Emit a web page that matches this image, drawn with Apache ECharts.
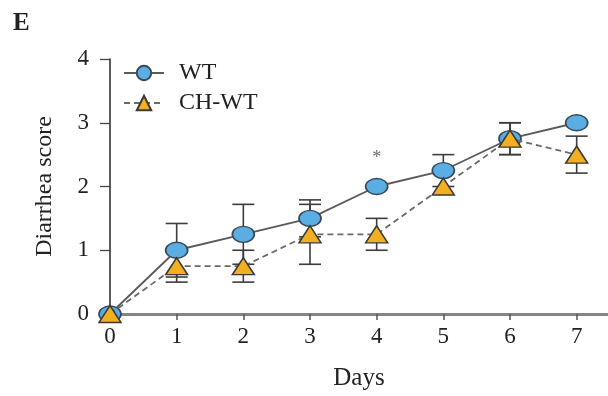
<!DOCTYPE html>
<html>
<head>
<meta charset="utf-8">
<script src="https://cdn.jsdelivr.net/npm/echarts@6/dist/echarts.min.js"></script>
<style>
  html, body { margin: 0; padding: 0; background: #fff; }
  #chart { width: 608px; height: 396px; }
</style>
</head>
<body>
<div id="chart"></div>
<script>
// Diarrhea score over days: WT vs CH-WT (mean ± error)
const days = [0, 1, 2, 3, 4, 5, 6, 7];
const wtMean = [0, 1, 1.25, 1.5, 2, 2.25, 2.75, 3];
const wtErr = [0, 0.42, 0.47, 0.29, 0, 0.25, 0.25, 0];
const chMean = [0, 0.75, 0.75, 1.25, 1.25, 2, 2.75, 2.5];
const chErr = [0, 0.25, 0.25, 0.47, 0.25, 0, 0.25, 0.29];
const yTicks = [0, 1, 2, 3, 4];
const sigDays = [4];
const sigHeights = [2.5];

const serif = '"Liberation Serif", "DejaVu Serif", serif';

function pairs(xs, ys) { return xs.map((x, i) => [x, ys[i]]); }
function errData(xs, ys, es) { return xs.map((x, i) => [x, ys[i] - es[i], ys[i] + es[i]]); }

function errorBars(api) {
  const x = api.value(0), lo = api.value(1), hi = api.value(2);
  if (hi - lo <= 0) return null;
  const pLo = api.coord([x, lo]);
  const pHi = api.coord([x, hi]);
  const hw = 11;
  const style = { stroke: '#3d3d3d', lineWidth: 1.6, fill: null };
  return {
    type: 'group',
    children: [
      { type: 'line', shape: { x1: pLo[0], y1: pLo[1], x2: pHi[0], y2: pHi[1] }, style },
      { type: 'line', shape: { x1: pHi[0] - hw, y1: pHi[1], x2: pHi[0] + hw, y2: pHi[1] }, style },
      { type: 'line', shape: { x1: pLo[0] - hw, y1: pLo[1], x2: pLo[0] + hw, y2: pLo[1] }, style }
    ]
  };
}

const chart = echarts.init(document.getElementById('chart'), null, { renderer: 'canvas' });
chart.setOption({
  animation: false,
  backgroundColor: '#fff',
  grid: { left: 110, right: 0, top: 59, bottom: 78, containLabel: false },
  legend: {
    left: 118, top: 61, orient: 'vertical', padding: [0, 0, 0, 5],
    itemWidth: 40, itemHeight: 18, itemGap: 6,
    data: ['WT', 'CH-WT'],
    textStyle: { fontFamily: serif, fontSize: 24, color: '#222', padding: [0, 0, 0, 10] }
  },
  xAxis: {
    type: 'value', min: 0, max: 7.47,
    name: 'Days', nameLocation: 'middle', nameGap: 52,
    nameTextStyle: { fontFamily: serif, fontSize: 25, color: '#222' },
    axisLine: { onZero: false, lineStyle: { color: '#858585', width: 2.8 } },
    axisTick: { show: true, length: 6, customValues: days, lineStyle: { color: '#555', width: 1.5 } },
    axisLabel: { customValues: days, margin: 11, fontFamily: serif, fontSize: 23, color: '#222' },
    splitLine: { show: false }
  },
  yAxis: {
    type: 'value', min: 0, max: 4, interval: 1,
    name: 'Diarrhea score', nameLocation: 'middle', nameGap: 53,
    nameTextStyle: { fontFamily: serif, fontSize: 24, color: '#222' },
    axisLine: { show: true, lineStyle: { color: '#333', width: 1.6 } },
    axisTick: { show: true, length: 10, lineStyle: { color: '#444', width: 1.3 } },
    axisLabel: { margin: 21, fontFamily: serif, fontSize: 23, color: '#222',
      formatter: v => yTicks.includes(v) ? String(v) : '' },
    splitLine: { show: false }
  },
  graphic: [
    { type: 'text', left: 13, top: 11,
      style: { text: 'E', font: 'bold 25px ' + serif, fill: '#222' } }
  ],
  series: [
    {
      name: 'WT', type: 'line', data: pairs(days, wtMean), z: 3,
      symbol: 'circle', symbolSize: [22, 16],
      lineStyle: { color: '#5a5a5a', width: 1.8, type: 'solid' },
      itemStyle: { color: '#5aaee3', borderColor: '#3a4a5a', borderWidth: 1.5 }
    },
    {
      name: 'CH-WT', type: 'line', data: pairs(days, chMean), z: 4,
      symbol: 'triangle', symbolSize: [22, 17],
      lineStyle: { color: '#6a6a6a', width: 1.8, type: [6, 4] },
      itemStyle: { color: '#f2b021', borderColor: '#3a3a3a', borderWidth: 1.5 }
    },
    {
      type: 'custom', name: 'WT err', data: errData(days, wtMean, wtErr),
      renderItem: (p, api) => errorBars(api), z: 2, silent: true,
      encode: { x: 0, y: [1, 2] }
    },
    {
      type: 'custom', name: 'CH-WT err', data: errData(days, chMean, chErr),
      renderItem: (p, api) => errorBars(api), z: 2, silent: true,
      encode: { x: 0, y: [1, 2] }
    },
    {
      type: 'scatter', name: 'sig', data: pairs(sigDays, sigHeights),
      symbolSize: 0, silent: true,
      label: { show: true, position: 'inside', formatter: '*', offset: [0, 4],
        fontFamily: serif, fontSize: 18, color: '#444' }
    }
  ]
});
</script>
</body>
</html>
